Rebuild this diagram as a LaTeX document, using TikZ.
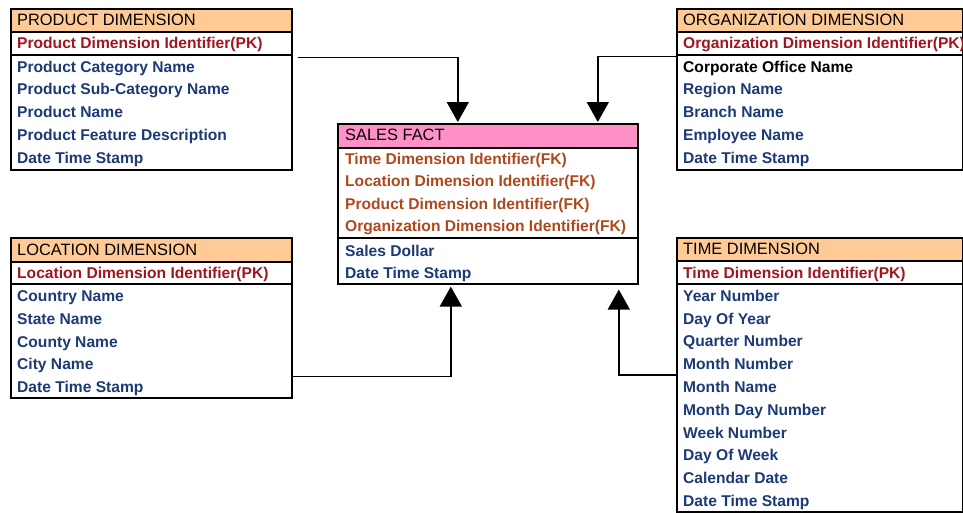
\documentclass[tikz,border=0pt]{standalone}
\usepackage{fontspec}
\setmainfont{Liberation Sans}
\usetikzlibrary{arrows.meta}
\definecolor{hdrorange}{RGB}{255,202,150}
\definecolor{hdrpink}{RGB}{255,145,200}
\definecolor{attrblue}{RGB}{28,58,118}
\definecolor{pkred}{RGB}{160,22,30}
\definecolor{fkbrown}{RGB}{176,72,30}
\tikzset{
  cell/.style={draw=black, line width=1.6pt, anchor=north west, inner sep=0pt, fill=white},
  dimhead/.style={cell, fill=hdrorange},
  facthead/.style={cell, fill=hdrpink},
  txt/.style={anchor=base west, inner sep=0pt, font=\fontsize{15.6}{19}\selectfont\bfseries},
  hdrtxt/.style={anchor=base west, inner sep=0pt, font=\fontsize{16.4}{20}\selectfont, text=black},
  pktxt/.style={txt, text=pkred},
  fktxt/.style={txt, text=fkbrown},
  attrtxt/.style={txt, text=attrblue},
  conn/.style={draw=black, line width=1.6pt, -{Triangle[width=22pt,length=20pt]}}
}
\begin{document}
\begin{tikzpicture}[x=1pt,y=-1pt]
\useasboundingbox (0,0) rectangle (963,512);

% ---------- PRODUCT DIMENSION ----------
\node[dimhead, minimum width=281pt, minimum height=23pt] (prodhead) at (10,8) {};
\node[cell, minimum width=281pt, minimum height=23pt] (prodpk) at (10,31) {};
\node[cell, minimum width=281pt, minimum height=115pt] (prodbody) at (10,54) {};
\node[hdrtxt] (prodtitle) at (17,25.5) {PRODUCT DIMENSION};
\node[pktxt] (prodkey) at (17,48.5) {Product Dimension Identifier(PK)};
\foreach \t [count=\i from 0] in {Product Category Name, Product Sub-Category Name, Product Name, Product Feature Description, Date Time Stamp}
  \node[attrtxt] (prodattr\i) at (17,{72+22.9*\i}) {\t};

% ---------- ORGANIZATION DIMENSION ----------
\node[dimhead, minimum width=286pt, minimum height=23pt] (orghead) at (676,8) {};
\node[cell, minimum width=286pt, minimum height=23pt] (orgpk) at (676,31) {};
\node[cell, minimum width=286pt, minimum height=115pt] (orgbody) at (676,54) {};
\node[hdrtxt] (orgtitle) at (683,25.5) {ORGANIZATION DIMENSION};
\node[pktxt] (orgkey) at (683,48.5) {Organization Dimension Identifier(PK)};
\node[txt, text=black] (orgattr0) at (683,72) {Corporate Office Name};
\foreach \t [count=\i from 1] in {Region Name, Branch Name, Employee Name, Date Time Stamp}
  \node[attrtxt] (orgattr\i) at (683,{72+22.9*\i}) {\t};

% ---------- SALES FACT ----------
\node[facthead, minimum width=300pt, minimum height=24pt] (facthd) at (337,123) {};
\node[cell, minimum width=300pt, minimum height=90pt] (factfk) at (337,147) {};
\node[cell, minimum width=300pt, minimum height=46pt] (factbody) at (337,237) {};
\node[hdrtxt] (facttitle) at (345,140) {SALES FACT};
\foreach \t [count=\i from 0] in {Time Dimension Identifier(FK), Location Dimension Identifier(FK), Product Dimension Identifier(FK), Organization Dimension Identifier(FK)}
  \node[fktxt] (factkey\i) at (345,{164+22.6*\i}) {\t};
\node[attrtxt] (factattr0) at (345,256) {Sales Dollar};
\node[attrtxt] (factattr1) at (345,278.7) {Date Time Stamp};

% ---------- LOCATION DIMENSION ----------
\node[dimhead, minimum width=281pt, minimum height=24pt] (lochead) at (10,237) {};
\node[cell, minimum width=281pt, minimum height=22pt] (locpk) at (10,261) {};
\node[cell, minimum width=281pt, minimum height=114pt] (locbody) at (10,283) {};
\node[hdrtxt] (loctitle) at (17,255.5) {LOCATION DIMENSION};
\node[pktxt] (lockey) at (17,278.5) {Location Dimension Identifier(PK)};
\foreach \t [count=\i from 0] in {Country Name, State Name, County Name, City Name, Date Time Stamp}
  \node[attrtxt] (locattr\i) at (17,{301.5+22.8*\i}) {\t};

% ---------- TIME DIMENSION ----------
\node[dimhead, minimum width=286pt, minimum height=23pt] (timehead) at (676,237) {};
\node[cell, minimum width=286pt, minimum height=23pt] (timepk) at (676,260) {};
\node[cell, minimum width=286pt, minimum height=228pt] (timebody) at (676,283) {};
\node[hdrtxt] (timetitle) at (683,254.5) {TIME DIMENSION};
\node[pktxt] (timekey) at (683,278) {Time Dimension Identifier(PK)};
\foreach \t [count=\i from 0] in {Year Number, Day Of Year, Quarter Number, Month Number, Month Name, Month Day Number, Week Number, Day Of Week, Calendar Date, Date Time Stamp}
  \node[attrtxt] (timeattr\i) at (683,{301.2+22.8*\i}) {\t};

% ---------- CONNECTORS ----------
\draw[conn] ([xshift=5pt,yshift=-2pt]prodpk.south east) -| ([xshift=-30pt,yshift=1pt]facthd.north);
\draw[conn] ([yshift=-1pt]orgpk.south west) -| ([xshift=110pt,yshift=1pt]facthd.north);
\draw[conn] ([yshift=22pt]locbody.south east) -| ([xshift=-37pt,yshift=-2pt]factbody.south);
\draw[conn] ([yshift=-92pt]timebody.north west) -| ([xshift=131pt,yshift=-5pt]factbody.south);
\end{tikzpicture}
\end{document}
